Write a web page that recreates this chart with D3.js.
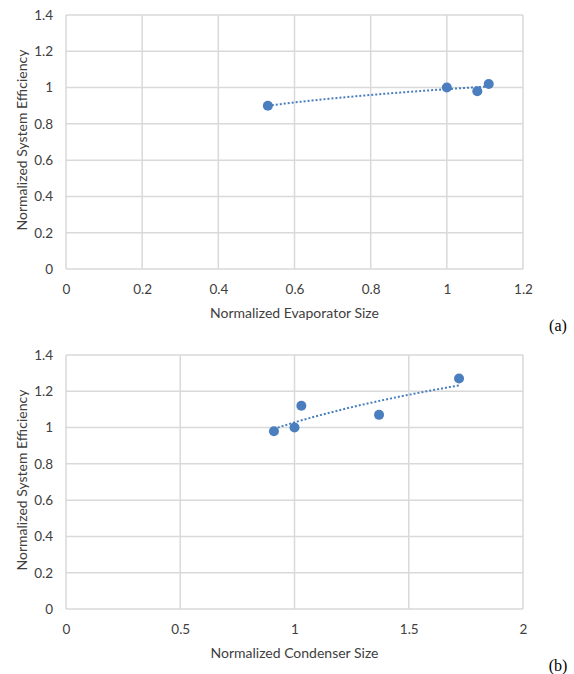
<!DOCTYPE html>
<html><head><meta charset="utf-8">
<script src="https://cdn.jsdelivr.net/npm/d3@7"></script>
<style>
html,body{margin:0;padding:0;background:#fff;}
svg{display:block;}
</style></head>
<body>
<svg id="chart" width="574" height="674"></svg>
<script>
// Panel (a): evaporator
const evapX = [0.53, 1.0, 1.08, 1.11];
const evapY = [0.90, 1.0, 0.98, 1.02];
const evapXTicks = [0, 0.2, 0.4, 0.6, 0.8, 1, 1.2];
// Panel (b): condenser
const condX = [0.91, 1.0, 1.03, 1.37, 1.72];
const condY = [0.98, 1.0, 1.12, 1.07, 1.27];
const condXTicks = [0, 0.5, 1, 1.5, 2];
const yTicks = [0, 0.2, 0.4, 0.6, 0.8, 1, 1.2, 1.4];
const yTitle = "Normalized System Efficiency";
const xTitles = ["Normalized Evaporator Size", "Normalized Condenser Size"];
const panelLabels = ["(a)", "(b)"];

const svg = d3.select("#chart");
const gridColor = "#d9d9d9";
const dotColor = "#4a7ebf";
const textColor = "#404040";
const font = "Lato, 'Open Sans', sans-serif";

function logFit(xs, ys) {
  const lx = xs.map(Math.log);
  const n = xs.length;
  const mx = d3.mean(lx), my = d3.mean(ys);
  let sxy = 0, sxx = 0;
  for (let i = 0; i < n; i++) { sxy += (lx[i]-mx)*(ys[i]-my); sxx += (lx[i]-mx)**2; }
  const a = sxy / sxx, b = my - a*mx;
  return x => a*Math.log(x) + b;
}

function panel(top, xs, ys, xTicks, xMax, xTitle, label) {
  const left = 66, right = 523, bottom = top + 254;
  const x = d3.scaleLinear().domain([0, xMax]).range([left, right]);
  const y = d3.scaleLinear().domain([0, 1.4]).range([bottom, top]);
  const g = svg.append("g");

  g.append("g").selectAll("line").data(yTicks).join("line")
    .attr("x1", left).attr("x2", right)
    .attr("y1", d => y(d)).attr("y2", d => y(d))
    .attr("stroke", gridColor).attr("stroke-width", 1.5);
  g.append("g").selectAll("line").data(xTicks).join("line")
    .attr("x1", d => x(d)).attr("x2", d => x(d))
    .attr("y1", top).attr("y2", bottom)
    .attr("stroke", gridColor).attr("stroke-width", 1.5);

  const xAxis = g.append("g").attr("transform", `translate(0,${bottom})`)
    .call(d3.axisBottom(x).tickValues(xTicks).tickSize(0).tickPadding(15).tickFormat(d3.format("")));
  const yAxis = g.append("g").attr("transform", `translate(${left},0)`)
    .call(d3.axisLeft(y).tickValues(yTicks).tickSize(0).tickPadding(13).tickFormat(d3.format("")));
  [xAxis, yAxis].forEach(a => {
    a.select(".domain").remove();
    a.selectAll("text").attr("fill", textColor).style("font-family", font).style("font-size", "13.5px");
  });

  const f = logFit(xs, ys);
  const x0 = d3.min(xs), x1 = d3.max(xs);
  const samples = d3.range(0, 41).map(i => x0 + (x1 - x0) * i / 40);
  g.append("path").datum(samples)
    .attr("d", d3.line().x(d => x(d)).y(d => y(f(d))))
    .attr("fill", "none").attr("stroke", dotColor).attr("stroke-width", 2)
    .attr("stroke-dasharray", "2,2");

  g.append("g").selectAll("circle").data(xs.map((v, i) => [v, ys[i]])).join("circle")
    .attr("cx", d => x(d[0])).attr("cy", d => y(d[1])).attr("r", 5)
    .attr("fill", dotColor);

  g.append("text").attr("x", (left + right) / 2).attr("y", bottom + 49)
    .attr("text-anchor", "middle").attr("fill", textColor)
    .style("font-family", font).style("font-size", "14px")
    .text(xTitle);
  g.append("text")
    .attr("transform", `translate(27,${(top + bottom) / 2 - 2}) rotate(-90)`)
    .attr("text-anchor", "middle").attr("fill", textColor)
    .style("font-family", font).style("font-size", "14px")
    .text(yTitle);
  g.append("text").attr("x", 558).attr("y", bottom + 62)
    .attr("text-anchor", "middle").attr("fill", "#000")
    .style("font-family", "'Liberation Serif', 'DejaVu Serif', serif").style("font-size", "16px")
    .text(label);
}

panel(15, evapX, evapY, evapXTicks, 1.2, xTitles[0], panelLabels[0]);
panel(355, condX, condY, condXTicks, 2, xTitles[1], panelLabels[1]);
</script>
</body></html>
